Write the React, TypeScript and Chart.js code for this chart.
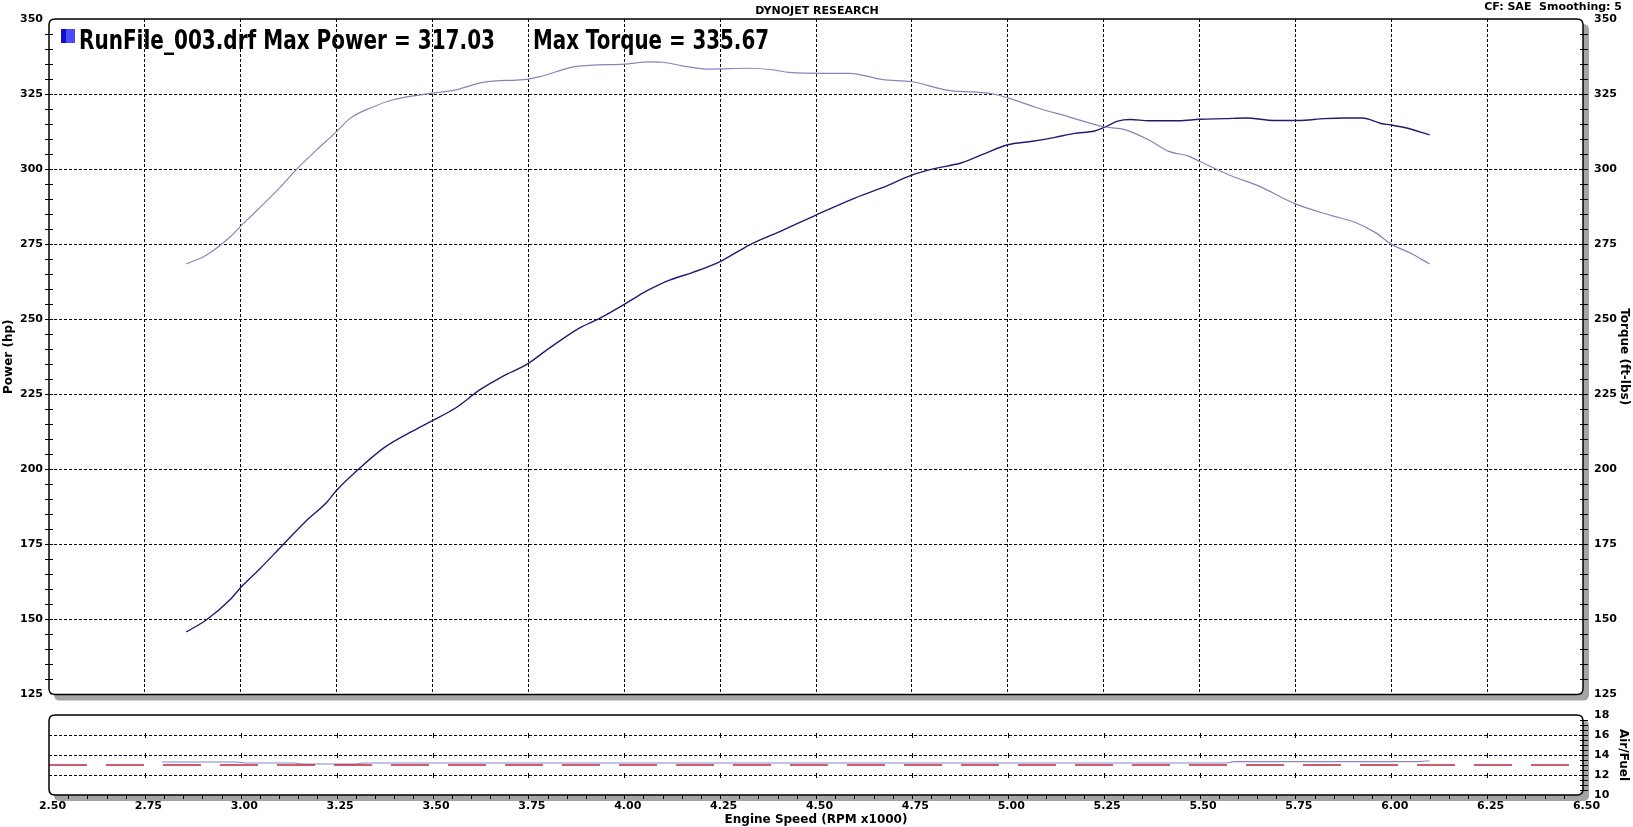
import React, { useEffect, useRef } from "react";
import { Chart, registerables } from "chart.js";

Chart.register(...registerables);

// ---------------- data ----------------
const powerRpm = [
  2.858, 2.909, 2.974, 3.0, 3.048, 3.109, 3.169, 3.225, 3.25, 3.3,
  3.374, 3.448, 3.5, 3.56, 3.625, 3.681, 3.749, 3.802, 3.885, 3.932,
  4.0, 4.034, 4.066, 4.118, 4.179, 4.25, 4.326, 4.413, 4.5, 4.595,
  4.673, 4.75, 4.8, 4.88, 4.933, 5.0, 5.06, 5.12, 5.174, 5.226,
  5.25, 5.287, 5.32, 5.368, 5.446, 5.5, 5.566, 5.622, 5.696, 5.757,
  5.826, 5.878, 5.925, 5.973, 6.0, 6.043, 6.1,
];
const powerHp = [
  145.8, 149.7, 156.8, 160.6, 166.6, 174.7, 182.6, 189.1, 193.0, 199.2,
  207.2, 212.7, 216.2, 220.4, 226.6, 230.8, 235.2, 240.1, 247.2, 250.0,
  254.9, 257.6, 259.9, 263.0, 265.6, 269.2, 274.7, 279.6, 284.7, 290.0,
  293.8, 298.0, 299.9, 302.1, 304.8, 308.1, 309.2, 310.5, 311.9, 312.7,
  313.8, 316.0, 316.5, 316.1, 316.1, 316.6, 316.8, 317.0, 316.2, 316.2,
  316.8, 317.0, 317.0, 315.2, 314.7, 313.6, 311.4,
];

const torqueRpm = [
  2.858, 2.911, 2.972, 3.0, 3.042, 3.102, 3.146, 3.198, 3.25, 3.285,
  3.345, 3.397, 3.5, 3.554, 3.632, 3.75, 3.78, 3.875, 4.0, 4.066,
  4.1, 4.152, 4.222, 4.326, 4.387, 4.43, 4.526, 4.587, 4.674, 4.75,
  4.846, 4.96, 5.02, 5.07, 5.16, 5.25, 5.297, 5.32, 5.368, 5.42,
  5.472, 5.5, 5.584, 5.654, 5.75, 5.844, 5.905, 5.957, 6.0, 6.052,
  6.1,
];
const torqueFtLbs = [
  268.4, 271.4, 277.4, 281.0, 286.2, 293.8, 300.0, 306.4, 312.5, 316.9,
  320.7, 323.1, 325.3, 326.2, 328.9, 330.0, 330.8, 334.2, 335.0, 335.7,
  335.6, 334.4, 333.3, 333.6, 333.1, 332.2, 331.9, 331.9, 329.8, 329.1,
  326.2, 325.1, 322.9, 320.7, 317.4, 314.1, 313.4, 312.5, 309.7, 305.9,
  304.3, 302.6, 297.7, 294.4, 288.4, 284.5, 282.3, 279.0, 275.0, 271.9,
  268.4,
];

const afrRpm = [2.795, 2.99, 3.01, 3.14, 3.16, 3.3, 3.32, 5.57, 5.59, 6.07, 6.09, 6.1];
const afrValues = [13.3, 13.3, 13.2, 13.2, 13.1, 13.1, 13.2, 13.2, 13.33, 13.33, 13.4, 13.4];

const afrRefRpm = [2.5, 6.5];
const afrRefValues = [13.0, 13.0];

const rpmRange = [2.5, 6.5];
const rpmStep = 0.25;
const hpRange = [125, 350];
const hpStep = 25;
const afrRange = [10, 18];
const afrStep = 2;

const headerCenter = "DYNOJET RESEARCH";
const headerRight = "CF: SAE  Smoothing: 5";
const runTitle = "RunFile_003.drf Max Power = 317.03";
const torqueTitle = "Max Torque = 335.67";
const powerAxisTitle = "Power (hp)";
const torqueAxisTitle = "Torque (ft-lbs)";
const afrAxisTitle = "Air/Fuel";
const rpmAxisTitle = "Engine Speed (RPM x1000)";

// ---------------- helpers ----------------
const FONT = "'DejaVu Sans', 'Verdana', sans-serif";
const tickFont = { family: FONT, size: 11, weight: "bold" as const };
const titleFont = { family: FONT, size: 12, weight: "bold" as const };

function roundRect(ctx: CanvasRenderingContext2D, x: number, y: number, w: number, h: number, r: number) {
  ctx.beginPath();
  ctx.moveTo(x + r, y);
  ctx.lineTo(x + w - r, y);
  ctx.quadraticCurveTo(x + w, y, x + w, y + r);
  ctx.lineTo(x + w, y + h - r);
  ctx.quadraticCurveTo(x + w, y + h, x + w - r, y + h);
  ctx.lineTo(x + r, y + h);
  ctx.quadraticCurveTo(x, y + h, x, y + h - r);
  ctx.lineTo(x, y + r);
  ctx.quadraticCurveTo(x, y, x + r, y);
  ctx.closePath();
}

function toPoints(xs: number[], ys: number[]) {
  return xs.map((x, i) => ({ x, y: ys[i] }));
}

const panelBackground = {
  id: "panelBackground",
  beforeDraw(chart: any) {
    const { ctx, chartArea: a } = chart;
    const w = a.right - a.left;
    const h = a.bottom - a.top;
    ctx.save();
    ctx.fillStyle = "#a4a4a4";
    roundRect(ctx, a.left + 5, a.top + 5, w + 1, h + 1, 6);
    ctx.fill();
    ctx.fillStyle = "#ffffff";
    roundRect(ctx, a.left, a.top, w, h, 6);
    ctx.fill();
    ctx.restore();
  },
};

function drawBorder(chart: any) {
  const { ctx, chartArea: a } = chart;
  ctx.save();
  ctx.strokeStyle = "#000";
  ctx.lineWidth = 1.5;
  roundRect(ctx, a.left, a.top, a.right - a.left, a.bottom - a.top, 6);
  ctx.stroke();
  ctx.restore();
}

const mainDecor = {
  id: "mainDecor",
  afterDraw(chart: any) {
    const { ctx, chartArea: a } = chart;
    drawBorder(chart);
    const y = chart.scales.y;
    ctx.save();
    ctx.strokeStyle = "#000";
    ctx.lineWidth = 1;
    for (let v = hpRange[0] + 5; v < hpRange[1]; v += 5) {
      const py = Math.round(y.getPixelForValue(v)) + 0.5;
      ctx.beginPath();
      ctx.moveTo(a.left - 4, py);
      ctx.lineTo(a.left + 4, py);
      ctx.moveTo(a.right - 3, py);
      ctx.lineTo(a.right + 5, py);
      ctx.stroke();
    }
    // header texts
    ctx.fillStyle = "#000";
    ctx.font = `bold 11px ${FONT}`;
    ctx.textBaseline = "alphabetic";
    ctx.textAlign = "center";
    ctx.fillText(headerCenter, 817, 14);
    ctx.textAlign = "right";
    ctx.fillText(headerRight, 1622, 10);
    // legend swatch
    ctx.fillStyle = "#1010c8";
    ctx.fillRect(61, 29, 14, 14);
    ctx.fillStyle = "#4a4aff";
    ctx.fillRect(66, 29, 9, 14);
    // run title
    ctx.fillStyle = "#000";
    ctx.textAlign = "left";
    ctx.font = `bold 27px ${FONT}`;
    const fit = (text: string, x: number, base: number, width: number) => {
      const tw = ctx.measureText(text).width;
      ctx.save();
      ctx.translate(x, base);
      ctx.scale(width / tw, 1);
      ctx.fillText(text, 0, 0);
      ctx.restore();
    };
    fit(runTitle, 79, 49, 416);
    fit(torqueTitle, 533, 49, 236);
    ctx.restore();
  },
};

const afrDecor = {
  id: "afrDecor",
  afterDraw(chart: any) {
    const { ctx, chartArea: a } = chart;
    drawBorder(chart);
    const x = chart.scales.x;
    const y = chart.scales.y;
    ctx.save();
    ctx.strokeStyle = "#000";
    ctx.lineWidth = 1;
    for (let v = afrRange[0] + 0.5; v < afrRange[1]; v += 0.5) {
      const py = Math.round(y.getPixelForValue(v)) + 0.5;
      ctx.beginPath();
      ctx.moveTo(a.right - 3, py);
      ctx.lineTo(a.right + 5, py);
      ctx.stroke();
    }
    for (let i = 1; i < 80; i++) {
      const v = rpmRange[0] + i * 0.05;
      const px = Math.round(x.getPixelForValue(v)) + 0.5;
      ctx.beginPath();
      ctx.moveTo(px, a.bottom);
      ctx.lineTo(px, a.bottom + 4);
      ctx.stroke();
    }
    for (let i = 1; i < 16; i++) {
      const px = Math.round(x.getPixelForValue(rpmRange[0] + i * rpmStep)) + 0.5;
      for (let g = afrRange[0] + afrStep; g < afrRange[1]; g += afrStep) {
        const py = Math.round(y.getPixelForValue(g));
        ctx.beginPath();
        ctx.moveTo(px, py - 2);
        ctx.lineTo(px, py + 3);
        ctx.stroke();
      }
    }
    ctx.restore();
  },
};

const inner = (min: number, max: number) => (c: any) => {
  const v = c.tick ? c.tick.value : null;
  if (v === null || Math.abs(v - min) < 1e-6 || Math.abs(v - max) < 1e-6) return "rgba(0,0,0,0)";
  return "#000";
};

export default function App() {
  const mainRef = useRef<HTMLCanvasElement | null>(null);
  const afrRef = useRef<HTMLCanvasElement | null>(null);

  useEffect(() => {
    const main = new Chart(mainRef.current as HTMLCanvasElement, {
      type: "line",
      data: {
        datasets: [
          {
            label: "Torque",
            data: toPoints(torqueRpm, torqueFtLbs),
            yAxisID: "y2",
            borderColor: "#8785b9",
            borderWidth: 1.2,
            pointRadius: 0,
            cubicInterpolationMode: "monotone",
            fill: false,
          },
          {
            label: "Power",
            data: toPoints(powerRpm, powerHp),
            yAxisID: "y",
            borderColor: "#1e1e6e",
            borderWidth: 1.4,
            pointRadius: 0,
            cubicInterpolationMode: "monotone",
            fill: false,
          },
        ],
      },
      options: {
        responsive: false,
        animation: false,
        devicePixelRatio: 1,
        parsing: false as any,
        layout: { padding: { top: 19, left: 0, right: 0, bottom: 0 } },
        plugins: { legend: { display: false }, tooltip: { enabled: false }, title: { display: false } },
        scales: {
          x: {
            type: "linear",
            min: rpmRange[0],
            max: rpmRange[1],
            ticks: { display: false, stepSize: rpmStep },
            grid: { color: inner(rpmRange[0], rpmRange[1]), drawTicks: false, lineWidth: 1, borderDash: [3, 2] } as any,
            border: { display: false, dash: [3, 2] },
            afterFit: (s: any) => {
              s.height = 8;
            },
          },
          y: {
            type: "linear",
            position: "left",
            min: hpRange[0],
            max: hpRange[1],
            ticks: { stepSize: hpStep, padding: 6, color: "#000", font: tickFont },
            grid: { color: inner(hpRange[0], hpRange[1]), drawTicks: false, lineWidth: 1, borderDash: [3, 2] } as any,
            border: { display: false, dash: [3, 2] },
            title: { display: true, text: powerAxisTitle, color: "#000", font: titleFont, padding: { top: 2, bottom: 0 } },
            afterFit: (s: any) => {
              s.width = 49;
            },
          },
          y2: {
            type: "linear",
            position: "right",
            min: hpRange[0],
            max: hpRange[1],
            ticks: { stepSize: hpStep, padding: 11, color: "#000", font: tickFont },
            grid: { display: false, drawTicks: false },
            border: { display: false },
            title: { display: true, text: torqueAxisTitle, color: "#000", font: titleFont, padding: { top: 2, bottom: 0 } },
            afterFit: (s: any) => {
              s.width = 50;
            },
          },
        },
      },
      plugins: [panelBackground, mainDecor],
    });

    const afr = new Chart(afrRef.current as HTMLCanvasElement, {
      type: "line",
      data: {
        datasets: [
          {
            label: "AFR target",
            data: toPoints(afrRefRpm, afrRefValues),
            borderColor: "#c0263c",
            borderWidth: 1.3,
            borderDash: [38, 19],
            pointRadius: 0,
            tension: 0,
            fill: false,
          },
          {
            label: "Air/Fuel",
            data: toPoints(afrRpm, afrValues),
            borderColor: "#8686d2",
            borderWidth: 1.2,
            pointRadius: 0,
            tension: 0,
            fill: false,
          },
        ],
      },
      options: {
        responsive: false,
        animation: false,
        devicePixelRatio: 1,
        parsing: false as any,
        layout: { padding: { top: 25, left: 49, right: 0, bottom: 0 } },
        plugins: { legend: { display: false }, tooltip: { enabled: false }, title: { display: false } },
        scales: {
          x: {
            type: "linear",
            min: rpmRange[0],
            max: rpmRange[1],
            ticks: {
              stepSize: rpmStep,
              padding: 5,
              labelOffset: 3.5,
              maxRotation: 0,
              autoSkip: false,
              color: "#000",
              font: tickFont,
              callback: (v: any) => Number(v).toFixed(2),
            },
            grid: { display: false, drawTicks: false },
            border: { display: false },
            title: { display: true, text: rpmAxisTitle, color: "#000", font: titleFont, padding: { top: 0, bottom: 0 } },
            afterFit: (s: any) => {
              s.height = 32;
            },
          },
          y: {
            type: "linear",
            position: "right",
            min: afrRange[0],
            max: afrRange[1],
            ticks: { stepSize: afrStep, padding: 11, color: "#000", font: tickFont },
            grid: { color: inner(afrRange[0], afrRange[1]), drawTicks: false, lineWidth: 1, borderDash: [3, 2] } as any,
            border: { display: false, dash: [3, 2] },
            title: { display: true, text: afrAxisTitle, color: "#000", font: titleFont, padding: { top: 3, bottom: 0 } },
            afterFit: (s: any) => {
              s.width = 50;
            },
          },
        },
      },
      plugins: [panelBackground, afrDecor],
    });

    return () => {
      main.destroy();
      afr.destroy();
    };
  }, []);

  return (
    <div style={{ position: "absolute", left: 0, top: 0, width: 1633, height: 827, background: "#fff", overflow: "hidden" }}>
      <canvas ref={mainRef} width={1633} height={712} style={{ position: "absolute", left: 0, top: 0 }} />
      <canvas ref={afrRef} width={1633} height={137} style={{ position: "absolute", left: 0, top: 690 }} />
    </div>
  );
}
